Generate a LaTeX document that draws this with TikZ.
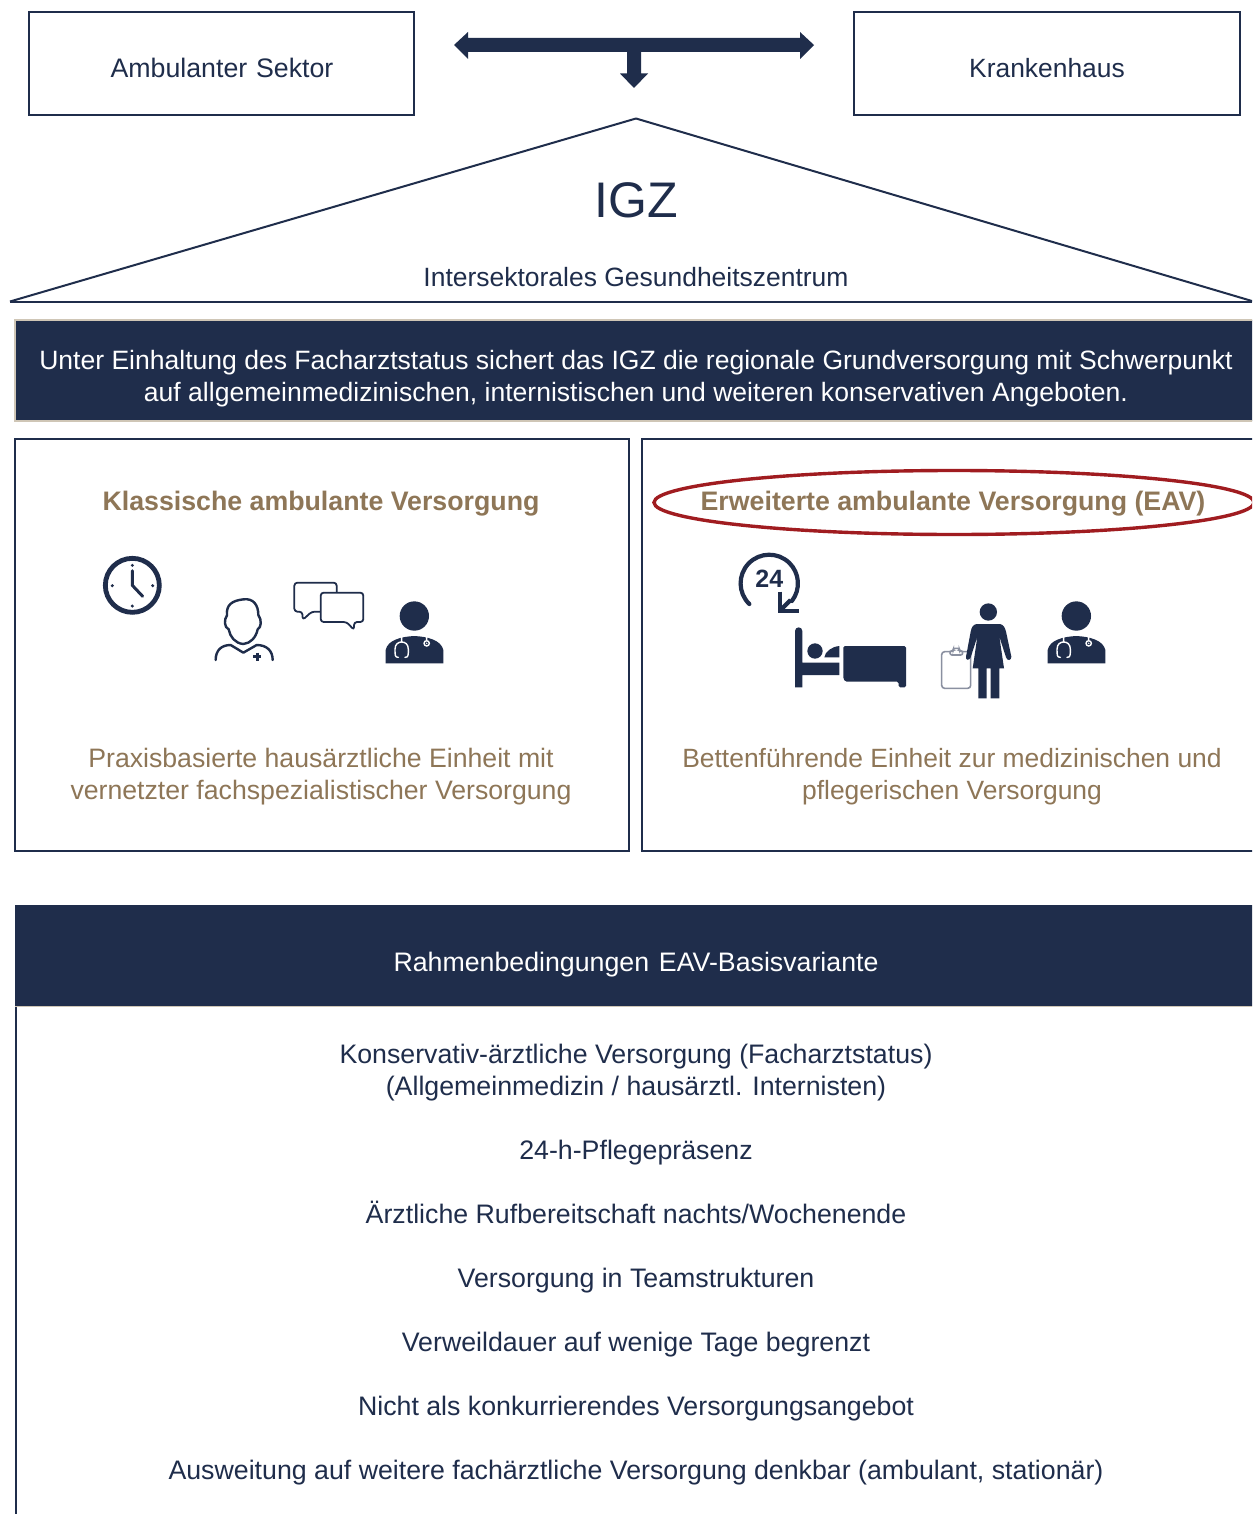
\documentclass[tikz,border=0pt]{standalone}
\usepackage{fontspec}
\setmainfont{Liberation Sans}
\definecolor{navy}{HTML}{1F2D4B}
\definecolor{tan}{HTML}{8E7657}
\definecolor{beige}{HTML}{CFC6B6}
\definecolor{ovalred}{HTML}{A01C20}
\definecolor{clipgray}{HTML}{8A90A0}
\newcommand{\fs}[1]{\fontsize{#1}{16}\selectfont}
\tikzset{
  txt/.style={anchor=base,align=center,inner sep=0pt,font=\fs{13.37},text=navy},
  whitetxt/.style={txt,text=white},
  tantxt/.style={txt,text=tan},
  tanbold/.style={txt,text=tan,font=\fs{13.37}\bfseries},
  boxline/.style={draw=navy,line width=1pt,fill=white},
  zoomA/.style={shift={(80,540)},x=0.16667pt,y=-0.16667pt},
  zoomB/.style={shift={(720,540)},x=0.16667pt,y=-0.16667pt},
  pics/doctor/.style={code={
    \fill[navy] (0,0) circle (44);
    \fill[navy] (-86,142) -- (-86,102) .. controls (-80,72) and (-40,62) .. (0,60) .. controls (40,62) and (80,72) .. (87,102) -- (87,142) -- cycle;
    \draw[white,line width=0.7pt,line cap=round] (-38,62) -- (-38,78) (-48,124) .. controls (-58,124) and (-58,118) .. (-58,100) .. controls (-58,84) and (-48,78) .. (-38,78) .. controls (-28,78) and (-18,84) .. (-18,100) .. controls (-18,118) and (-18,124) .. (-28,124);
    \draw[white,line width=0.7pt] (37,62) -- (37,74) (37,82) circle (8);
    \fill[white] (37,82) circle (2.5);
  }}
}
\begin{document}
\begin{tikzpicture}[x=0.5pt,y=-0.5pt]
\useasboundingbox (0,0) rectangle (1252,1514);
\clip (0,0) rectangle (1252,1514);
\fill[white] (0,0) rectangle (1252,1514);

% top boxes
\node[boxline,minimum width=192.5pt,minimum height=51.5pt,inner sep=0pt] (ambbox) at (221.5,63.5) {};
\node[txt] (amb) at (222,78) {Ambulanter\hspace{4.4pt}Sektor};
\node[boxline,minimum width=193pt,minimum height=51.5pt,inner sep=0pt] (khbox) at (1046.5,63.5) {};
\node[txt,font=\fs{13.2}] (kh) at (1047,78) {Krankenhaus};

% T arrow
\fill[navy] (454,45) -- (468,32) -- (468,38) -- (800,38) -- (800,32) -- (814,45) -- (800,59) -- (800,52) -- (641,52) -- (641,73.5) -- (648,73.5) -- (634,88) -- (620,73.5) -- (627,73.5) -- (627,52) -- (468,52) -- (468,59) -- cycle;

% roof
\draw[navy,line width=1pt,line join=round] (10,301.5) -- (636,118.5) -- (1262,304);
\draw[navy,line width=1pt] (10,301.5) -- (1252,301.5);
\node[txt,font=\fs{25}] (igz) at (636,218) {IGZ};
\node[txt,font=\fs{13.23}] (igzsub) at (636,286) {Intersektorales Gesundheitszentrum};

% banner
\fill[navy,draw=beige,line width=1pt] (14.5,319.5) rectangle (1270,421);
\node[whitetxt,font=\fs{13.27}] (banner) at (636,401) {Unter Einhaltung des Facharztstatus sichert das IGZ die regionale Grundversorgung mit Schwerpunkt\\auf allgemeinmedizinischen, internistischen und weiteren konservativen Angeboten.};

% two panels
\draw[boxline] (14.5,438.5) rectangle (628.5,851);
\draw[boxline] (642,438.5) rectangle (1270,851);
\node[tanbold] (klass) at (321,510) {Klassische ambulante Versorgung};
\node[tanbold] (erw) at (953,510) {Erweiterte ambulante Versorgung (EAV)};
\draw[ovalred,line width=1.7pt] (954,502.5) ellipse (300 and 32);
\node[tantxt,font=\fs{13.33}] (praxis) at (321,799) {Praxisbasierte hausärztliche Einheit mit\\vernetzter fachspezialistischer Versorgung};
\node[tantxt,font=\fs{13.22}] (betten) at (952,799) {Bettenführende Einheit zur medizinischen und\\pflegerischen Versorgung};

% clock
\begin{scope}[zoomA]
  \draw[navy,line width=2.4pt] (157,136) circle (81);
  \draw[navy,line cap=round,line join=round,line width=1.5pt] (157,92) -- (157,136) -- (188,169);
  \foreach \a/\b in {157/76,157/198,97/137,218/137} \fill[navy] (\a,\b) circle (5);
  % person
  \draw[navy,line cap=round,line join=round,line width=1.2pt] (490,312) .. controls (465,310) and (450,290) .. (446,268) .. controls (432,262) and (432,238) .. (441,226) .. controls (438,195) and (455,182) .. (490,178) .. controls (520,174) and (535,195) .. (535,225) .. controls (546,240) and (544,262) .. (533,268) .. controls (528,292) and (512,310) .. (490,312) -- cycle;
  \draw[navy,line cap=round,line join=round,line width=1.2pt] (407,360) .. controls (407,330) and (425,315) .. (452,315) -- (490,338) -- (530,315) .. controls (560,315) and (578,332) .. (578,360);
  \draw[navy,line width=1.2pt] (532,338) -- (532,362) (520,350) -- (544,350);
  % bubbles
  \draw[navy,line join=round,line width=0.9pt,rounded corners=1.5pt] (643,128) -- (770,128) -- (770,215) -- (695,215) -- (668,240) -- (667,215) -- (643,215) -- cycle;
  \draw[navy,line join=round,fill=white,line width=0.9pt,rounded corners=1.5pt] (722,158) -- (850,158) -- (850,246) -- (822,246) -- (822,270) -- (800,246) -- (722,246) -- cycle;
  % doctor
  \pic at (1003,228) {doctor};
\end{scope}

\begin{scope}[zoomB]
  % 24h
  \draw[navy,line width=2.1pt,line cap=round] (88,192) arc[start angle=134,end angle=398,radius=86];
  \draw[navy,line width=2.1pt] (180,155) -- (180,212) -- (237,212);
  \draw[navy,line width=2.1pt] (180,212) -- (212,180);
  \node[anchor=base,inner sep=0pt,text=navy,font=\fs{12.5}\bfseries] (h24) at (148,142) {24};
  % bed
  \fill[navy] (225,273) arc[start angle=180,end angle=360,radius=11] -- (247,368) -- (358,368) -- (358,405) -- (247,405) -- (247,442) -- (225,442) -- cycle;
  \fill[navy] (285,333) circle (23);
  \fill[navy] (313,352) .. controls (315,335) and (335,320) .. (358,318) -- (358,352) -- cycle;
  \fill[navy,rounded corners=0.8pt] (370,318) -- (558,318) -- (558,442) -- (536,442) -- (536,425) -- (385,425) .. controls (375,425) and (370,418) .. (370,408) -- cycle;
  % nurse
  \draw[clipgray,line width=0.8pt,rounded corners=1.5pt,fill=white] (665,335) rectangle (752,445);
  \draw[clipgray,line width=0.8pt,fill=white,rounded corners=1pt] (690,345) -- (690,333) -- (700,333) -- (700,325) -- (718,325) -- (718,333) -- (728,333) -- (728,345) -- cycle;
  \fill[navy] (805,216) circle (26);
  \fill[navy] (770,252) -- (840,252) .. controls (852,254) and (855,265) .. (858,275) -- (874,350) .. controls (874,362) and (862,364) .. (858,352) -- (838,290) -- (852,385) -- (838,385) -- (838,475) -- (812,475) -- (812,385) -- (800,385) -- (800,475) -- (775,475) -- (775,385) -- (758,385) -- (772,290) -- (752,352) .. controls (748,362) and (736,362) .. (738,350) -- (752,275) .. controls (755,262) and (758,254) .. (770,252) -- cycle;
  \pic at (1069,228) {doctor};
\end{scope}

% Rahmen
\draw[navy,line width=1pt] (16,1006) -- (16,1530);
\fill[navy] (15,905) rectangle (1270,1006);
\draw[beige,line width=0.5pt] (15,1006.5) -- (1270,1006.5);
\node[whitetxt] (rahmen) at (636,971) {Rahmenbedingungen\hspace{4.9pt}EAV-Basisvariante};
\node[txt] (l1) at (636,1095) {Konservativ-ärztliche Versorgung (Facharztstatus)\\(Allgemeinmedizin / hausärztl. Internisten)};
\node[txt] (l2) at (636,1159) {24-h-Pflegepräsenz};
\node[txt] (l3) at (636,1223) {Ärztliche Rufbereitschaft nachts/Wochenende};
\node[txt] (l4) at (636,1287) {Versorgung in Teamstrukturen};
\node[txt] (l5) at (636,1351) {Verweildauer auf wenige Tage begrenzt};
\node[txt] (l6) at (636,1415) {Nicht als konkurrierendes Versorgungsangebot};
\node[txt] (l7) at (636,1479) {Ausweitung auf weitere fachärztliche Versorgung denkbar (ambulant, stationär)};
\end{tikzpicture}
\end{document}
